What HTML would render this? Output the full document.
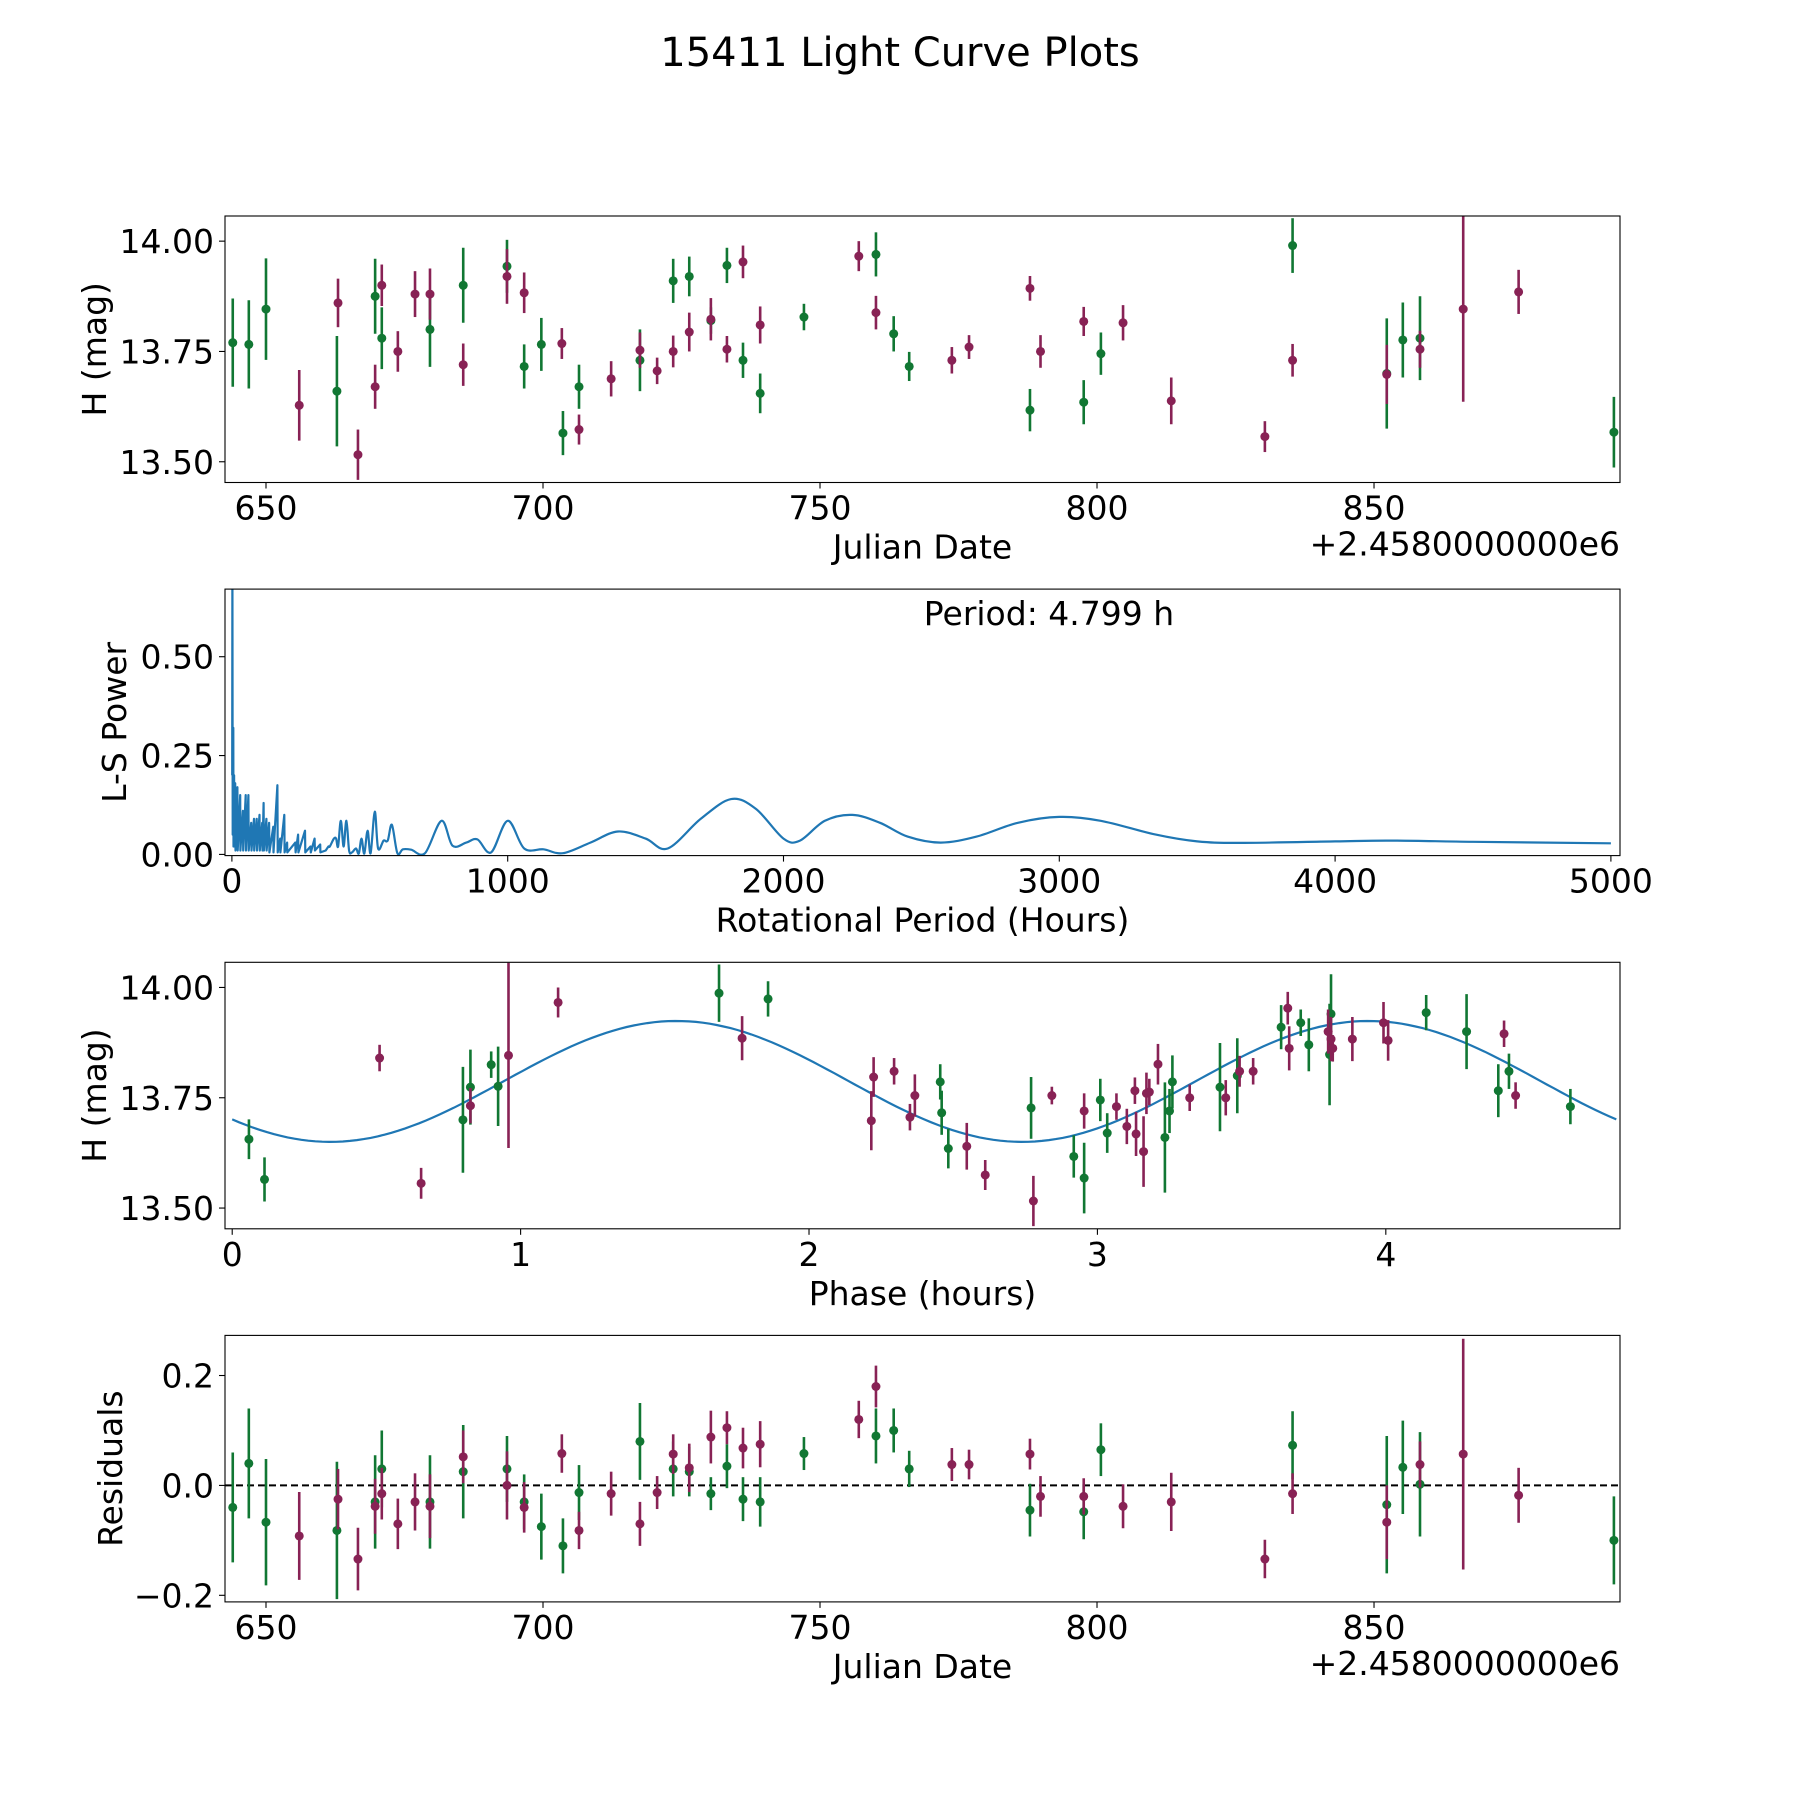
<!DOCTYPE html>
<html><head><meta charset="utf-8"><style>
html,body{margin:0;padding:0;background:#fff}
svg{display:block;font-family:"DejaVu Sans","Liberation Sans",sans-serif}
</style></head><body>
<svg id="fig" width="1800" height="1800" viewBox="0 0 1800 1800" xmlns="http://www.w3.org/2000/svg">
<rect width="1800" height="1800" fill="#fff"/>
<text x="900" y="66" font-size="40" text-anchor="middle">15411 Light Curve Plots</text>
</svg>
<script>
// ---------- DATA ----------
const greenJD = [644,646.9,650,662.8,669.7,670.9,679.6,685.6,693.5,696.6,699.7,703.6,706.5,717.5,723.5,726.4,730.3,733.2,736.1,739.2,747.1,760.1,763.3,766.1,787.9,797.6,800.7,835.3,852.3,855.2,858.3,893.3];
const greenH = [13.77,13.766,13.846,13.66,13.875,13.78,13.80,13.90,13.943,13.716,13.766,13.565,13.67,13.73,13.91,13.92,13.82,13.945,13.73,13.655,13.828,13.97,13.79,13.716,13.617,13.635,13.745,13.99,13.70,13.776,13.78,13.567];
const greenErr = [0.10,0.10,0.115,0.125,0.085,0.07,0.085,0.085,0.06,0.05,0.06,0.05,0.05,0.07,0.05,0.045,0.03,0.04,0.04,0.045,0.03,0.05,0.04,0.033,0.048,0.05,0.048,0.062,0.125,0.085,0.095,0.08];
const greenRes = [-0.04,0.04,-0.067,-0.082,-0.03,0.03,-0.03,0.025,0.03,-0.03,-0.075,-0.11,-0.013,0.08,0.03,0.025,-0.015,0.035,-0.025,-0.03,0.058,0.09,0.1,0.03,-0.045,-0.048,0.065,0.073,-0.035,0.033,0.002,-0.1];
const maroonJD = [656,663,666.6,669.7,670.9,673.8,676.9,679.6,685.6,693.5,696.6,703.4,706.5,712.3,717.5,720.6,723.5,726.4,730.3,733.2,736.1,739.2,757,760.1,773.8,776.9,787.9,789.8,797.6,804.7,813.4,830.3,835.3,852.3,858.3,866.1,876.1];
const maroonH = [13.628,13.86,13.516,13.67,13.90,13.75,13.88,13.88,13.72,13.92,13.883,13.768,13.573,13.688,13.753,13.706,13.75,13.794,13.823,13.755,13.953,13.81,13.966,13.838,13.73,13.76,13.893,13.75,13.818,13.815,13.638,13.557,13.73,13.698,13.755,13.846,13.885];
const maroonErr = [0.08,0.055,0.057,0.05,0.047,0.046,0.052,0.058,0.048,0.062,0.046,0.035,0.034,0.04,0.04,0.03,0.036,0.044,0.048,0.03,0.037,0.042,0.034,0.038,0.03,0.027,0.028,0.037,0.033,0.04,0.053,0.035,0.037,0.067,0.042,0.21,0.05];
const maroonRes = [-0.092,-0.025,-0.134,-0.038,-0.015,-0.07,-0.03,-0.038,0.052,0,-0.04,0.058,-0.082,-0.015,-0.07,-0.013,0.057,0.032,0.088,0.105,0.068,0.075,0.12,0.18,0.038,0.038,0.057,-0.02,-0.02,-0.038,-0.03,-0.134,-0.015,-0.067,0.038,0.057,-0.018];

const greenPhase = [0.058,0.112,0.80,0.826,0.898,0.922,1.688,1.858,2.455,2.46,2.483,2.77,2.918,2.954,3.01,3.034,3.234,3.25,3.26,3.425,3.485,3.637,3.705,3.733,3.805,3.81,4.14,4.28,4.39,4.427,4.64];
const greenPhaseH = [13.656,13.565,13.70,13.774,13.825,13.776,13.987,13.974,13.786,13.716,13.635,13.727,13.617,13.568,13.745,13.67,13.66,13.72,13.786,13.774,13.80,13.91,13.92,13.87,13.848,13.94,13.943,13.90,13.766,13.81,13.73];
const greenPhaseErr = [0.045,0.05,0.12,0.085,0.03,0.09,0.065,0.04,0.04,0.05,0.045,0.07,0.048,0.08,0.048,0.045,0.125,0.05,0.06,0.1,0.085,0.05,0.03,0.06,0.115,0.09,0.04,0.085,0.06,0.04,0.04];
const maroonPhase = [0.511,0.655,0.826,0.958,1.13,1.768,2.216,2.224,2.295,2.35,2.367,2.547,2.611,2.778,2.842,2.954,3.066,3.102,3.13,3.134,3.16,3.17,3.18,3.21,3.32,3.445,3.493,3.54,3.66,3.665,3.80,3.81,3.816,3.884,3.992,4.008,4.41,4.45];
const maroonPhaseH = [13.84,13.556,13.732,13.846,13.966,13.885,13.698,13.797,13.81,13.706,13.755,13.64,13.575,13.516,13.755,13.72,13.73,13.685,13.766,13.668,13.628,13.76,13.763,13.826,13.75,13.75,13.81,13.81,13.953,13.862,13.9,13.883,13.862,13.883,13.92,13.88,13.895,13.755];
const maroonPhaseErr = [0.03,0.035,0.04,0.21,0.034,0.05,0.067,0.045,0.03,0.03,0.048,0.053,0.034,0.057,0.02,0.04,0.03,0.04,0.03,0.05,0.08,0.047,0.03,0.046,0.03,0.04,0.035,0.03,0.037,0.05,0.05,0.05,0.03,0.05,0.047,0.046,0.03,0.03];

// sine model: [mean, amplitude, zero-phase, sub-period]
const modelParams = [13.787, 0.137, 0.94, 2.3995];
const modelRange = [0, 4.799];

const lsPeriod = [1,2,3,5,6,8,9,12,13,20,21,30,31,40,41,50,51,60,61,70,71,80,81,90,91,100,101,110,111,115,116,125,126,135,136,150,151,165,166,175,176,190,191,200,201,230,231,240,241,265,266,285,286,300,301,320,321,340,350,355,370,378,385,395,405,415,425,435,450,460,470,480,492,503,518,530,550,565,580,600,620,650,700,760,800,850,890,940,1000,1060,1130,1200,1300,1400,1500,1580,1700,1810,1900,2000,2060,2150,2250,2350,2450,2570,2700,2850,3000,3150,3350,3500,3650,4000,4200,4500,5000];
const lsPower = [0.2,0.75,0.05,0.32,0.02,0.2,0.02,0.18,0.01,0.17,0.01,0.15,0.01,0.11,0.01,0.15,0.01,0.15,0.01,0.08,0.01,0.09,0.01,0.09,0.01,0.1,0.01,0.08,0.01,0.13,0.01,0.09,0.01,0.08,0.005,0.07,0.005,0.175,0.005,0.04,0.005,0.1,0.005,0.03,0.005,0.03,0.005,0.05,0.005,0.06,0.005,0.02,0.005,0.04,0.01,0.025,0.005,0.01,0.02,0.02,0.04,0.04,0.02,0.085,0.02,0.085,0.01,0.005,0.015,0.002,0.04,0.002,0.06,0.003,0.108,0.015,0.035,0.035,0.075,0.003,0.013,0.012,0.003,0.085,0.022,0.03,0.038,0.005,0.085,0.015,0.013,0.003,0.03,0.058,0.04,0.015,0.09,0.14,0.115,0.04,0.035,0.085,0.1,0.08,0.045,0.03,0.045,0.08,0.095,0.085,0.05,0.033,0.029,0.033,0.035,0.032,0.028];

const jdTicks = [650,700,750,800,850];
const hTicks = [13.50,13.75,14.00];
const lsXTicks = [0,1000,2000,3000,4000,5000];
const lsYTicks = [0.00,0.25,0.50];
const phaseTicks = [0,1,2,3,4];
const resTicks = [-0.2,0.0,0.2];

// ---------- LAYOUT ----------
const NS = "http://www.w3.org/2000/svg";
const svg = document.getElementById('fig');
const L = 225, R = 1620, H = 266.5, TOPS = [216, 589.1, 962.3, 1335.4];
const GREEN = '#117733', MAROON = '#882255', BLUE = '#1f77b4';
const FS = 33;
function el(tag, attrs, parent){ const e=document.createElementNS(NS,tag); for(const k in attrs) e.setAttribute(k,attrs[k]); (parent||svg).appendChild(e); return e; }
function lin(d0,d1,p0,p1){ return v => p0 + (v-d0)/(d1-d0)*(p1-p0); }

function axesFrame(top, name, xs, ys, xt, yt, xfmt, yfmt){
  const g = el('g',{});
  
  
  const clipId = name+'-clip';
  const cp = el('clipPath',{id:clipId},g); el('rect',{x:L,y:top,width:R-L,height:H},cp);
  const plot = el('g',{'clip-path':'url(#'+clipId+')'},g);
  
  
  const ax = el('g',{},g);
  xt.forEach(v=>{ const x=xs(v);
    el('line',{x1:x,y1:top+H,x2:x,y2:top+H+6,stroke:'#000','stroke-width':1.1},ax);
    const t=el('text',{x:x,y:top+H+37,'font-size':FS,'text-anchor':'middle'},ax); t.textContent=xfmt(v);
    
    
  });
  yt.forEach(v=>{ const y=ys(v);
    el('line',{x1:L-6,y1:y,x2:L,y2:y,stroke:'#000','stroke-width':1.1},ax);
    const t=el('text',{x:L-11,y:y+12,'font-size':FS,'text-anchor':'end'},ax); t.textContent=yfmt(v);
    
    
  });
  const fr = el('rect',{x:L,y:top,width:R-L,height:H,fill:'none',stroke:'#000','stroke-width':1.1},g);
  
  
  return plot;
}
function label(txt,x,y,name,rot){
  const t = el('text',{x:x,y:y,'font-size':FS,'text-anchor':'middle'});
  if(rot) t.setAttribute('transform','rotate(-90 '+x+' '+y+')');
  t.textContent = txt;
  
  
  return t;
}
function errorbars(g, xsArr, ysArr, errs, color, xs, ys, name){
  xsArr.forEach((xv,i)=>{
    const x=xs(xv);
    const b=el('line',{x1:x,x2:x,y1:ys(ysArr[i]-errs[i]),y2:ys(ysArr[i]+errs[i]),stroke:color,'stroke-width':2.6},g);
    
    
    const c=el('circle',{cx:x,cy:ys(ysArr[i]),r:4.5,fill:color},g);
    
    
  });
}
const f2 = v=>v.toFixed(2), f0 = v=>String(v), f1 = v=>v.toFixed(1).replace('-','\u2212');
const JDMIN = 642.6, JDMAX = 894.4;

// ---------- PANEL 1: light curve ----------
{
  const top=TOPS[0];
  const xs=lin(JDMIN,JDMAX,L,R), ys=lin(13.453,14.057,top+H,top);
  const g=axesFrame(top,'light-curve-axes',xs,ys,jdTicks,hTicks,f0,f2);
  errorbars(g,greenJD,greenH,greenErr,GREEN,xs,ys,'green-filter');
  errorbars(g,maroonJD,maroonH,maroonErr,MAROON,xs,ys,'red-filter');
  label('Julian Date',(L+R)/2,top+H+76,'x-axis-title-julian-date');
  const o=el('text',{x:R,y:top+H+73,'font-size':FS,'text-anchor':'end'}); o.textContent='+2.4580000000e6';
  
  
  label('H (mag)',106,top+H/2,'y-axis-title-h-mag',true);
}
// ---------- PANEL 2: periodogram ----------
{
  const top=TOPS[1];
  const xs=lin(-25,5033,L,R), ys=lin(-0.003,0.671,top+H,top);
  const g=axesFrame(top,'periodogram-axes',xs,ys,lsXTicks,lsYTicks,f0,f2);
  const P=lsPeriod.map((p,i)=>[xs(p),ys(lsPower[i])]);
  let d='M'+P[0][0].toFixed(1)+','+P[0][1].toFixed(1);
  for(let i=1;i<P.length;i++){
    if(lsPeriod[i]<=350){ d+='L'+P[i][0].toFixed(1)+','+P[i][1].toFixed(1); continue; }
    const p0=P[Math.max(0,i-2)],p1=P[i-1],p2=P[i],p3=P[Math.min(P.length-1,i+1)];
    const c1=[p1[0]+(p2[0]-p0[0])/6,p1[1]+(p2[1]-p0[1])/6], c2=[p2[0]-(p3[0]-p1[0])/6,p2[1]-(p3[1]-p1[1])/6];
    d+='C'+c1[0].toFixed(1)+','+c1[1].toFixed(1)+' '+c2[0].toFixed(1)+','+c2[1].toFixed(1)+' '+p2[0].toFixed(1)+','+p2[1].toFixed(1);
  }
  const pl=el('path',{d:d,fill:'none',stroke:BLUE,'stroke-width':2.2,'stroke-linejoin':'round'},g);
  
  
  const pt=el('text',{x:1049,y:top+24+12,'font-size':FS,'text-anchor':'middle'}); pt.textContent='Period: 4.799 h';
  
  
  label('Rotational Period (Hours)',(L+R)/2,top+H+76,'x-axis-title-rotational-period');
  label('L-S Power',126,top+H/2,'y-axis-title-ls-power',true);
}
// ---------- PANEL 3: phased ----------
{
  const top=TOPS[2];
  const xs=lin(-0.025,4.812,L,R), ys=lin(13.453,14.057,top+H,top);
  const g=axesFrame(top,'phase-axes',xs,ys,phaseTicks,hTicks,f0,f2);
  let d=''; const N=200;
  for(let i=0;i<=N;i++){ const p=modelRange[0]+(modelRange[1]-modelRange[0])*i/N;
    const m=modelParams[0]+modelParams[1]*Math.sin(2*Math.PI*(p-modelParams[2])/modelParams[3]);
    d+=(i?'L':'M')+xs(p).toFixed(1)+','+ys(m).toFixed(1); }
  const ml=el('path',{d:d,fill:'none',stroke:BLUE,'stroke-width':2.2},g);
  
  
  errorbars(g,greenPhase,greenPhaseH,greenPhaseErr,GREEN,xs,ys,'green-phase');
  errorbars(g,maroonPhase,maroonPhaseH,maroonPhaseErr,MAROON,xs,ys,'red-phase');
  label('Phase (hours)',(L+R)/2,top+H+76,'x-axis-title-phase');
  label('H (mag)',106,top+H/2,'y-axis-title-h-mag-phase',true);
}
// ---------- PANEL 4: residuals ----------
{
  const top=TOPS[3];
  const xs=lin(JDMIN,JDMAX,L,R), ys=lin(-0.212,0.273,top+H,top);
  const g=axesFrame(top,'residuals-axes',xs,ys,jdTicks,resTicks,f0,f1);
  const z=el('line',{x1:L,x2:R,y1:ys(0),y2:ys(0),stroke:'#000','stroke-width':2,'stroke-dasharray':'7,4'},g);
  
  
  errorbars(g,greenJD,greenRes,greenErr,GREEN,xs,ys,'green-residual');
  errorbars(g,maroonJD,maroonRes,maroonErr,MAROON,xs,ys,'red-residual');
  label('Julian Date',(L+R)/2,top+H+76,'x-axis-title-julian-date-residuals');
  const o=el('text',{x:R,y:top+H+73,'font-size':FS,'text-anchor':'end'}); o.textContent='+2.4580000000e6';
  
  
  label('Residuals',122,top+H/2,'y-axis-title-residuals',true);
}
</script>
</body></html>
